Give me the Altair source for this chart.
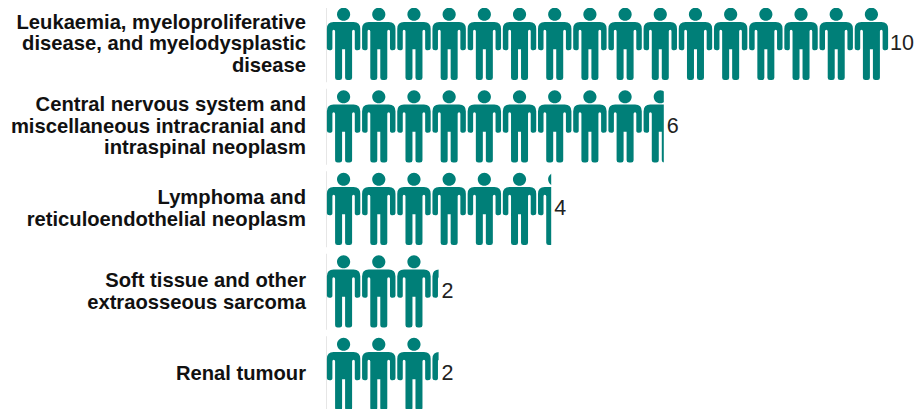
import math
import re
import altair as alt
import pandas as pd

categories = [
    "Leukaemia, myeloproliferative\ndisease, and myelodysplastic\ndisease",
    "Central nervous system and\nmiscellaneous intracranial and\nintraspinal neoplasm",
    "Lymphoma and\nreticuloendothelial neoplasm",
    "Soft tissue and other\nextraosseous sarcoma",
    "Renal tumour",
]
values = [10, 6, 4, 2, 2]
per_icon = 0.625
teal = "#007f78"
font = "Liberation Sans"

person_px = (
    "M0 -36.6 C3.6 -36.6 6.6 -33.6 6.6 -30 C6.6 -26.4 3.6 -23.4 0 -23.4 "
    "C-3.6 -23.4 -6.6 -26.4 -6.6 -30 C-6.6 -33.6 -3.6 -36.6 0 -36.6 Z "
    "M-10 -22.3 L10 -22.3 Q16.7 -22.3 16.7 -15.5 L16.7 4 Q16.7 6 14 6 Q11.2 6 11.2 4 "
    "L11.2 -13 Q11.2 -14.5 10 -14.5 Q8.5 -14.5 8.5 -13 L8.5 33.5 Q8.5 35.8 6 35.8 "
    "L4 35.8 Q1.5 35.8 1.5 33.5 L1.5 5 L-1.5 5 L-1.5 33.5 Q-1.5 35.8 -4 35.8 L-6 35.8 "
    "Q-8.5 35.8 -8.5 33.5 L-8.5 -13 Q-8.5 -14.5 -10 -14.5 Q-11.2 -14.5 -11.2 -13 "
    "L-11.2 4 Q-11.2 6 -14 6 Q-16.7 6 -16.7 4 L-16.7 -15.5 Q-16.7 -22.3 -10 -22.3 Z"
)
person = re.sub(r"-?\d+(\.\d+)?", lambda m: f"{float(m.group()) / 36:.4f}", person_px)

rows = pd.DataFrame({"cat": categories, "value": values})
rows["end"] = [math.ceil(v / per_icon) * per_icon for v in values]
rows["zero"] = 0.0
rows["edge"] = 0.018
rows["lines"] = [c.count("\n") + 1 for c in categories]

icons = pd.DataFrame(
    [
        {"cat": c, "pos": (i + 0.5) * per_icon}
        for c, v in zip(categories, values)
        for i in range(math.ceil(v / per_icon))
    ]
)

x_scale = alt.Scale(domain=[0, 10], range=[0, 563])
y_enc = alt.Y(
    "cat:N",
    sort=categories,
    title=None,
    scale=alt.Scale(domain=categories, range=[-5, 407.5], paddingInner=0, paddingOuter=0),
    axis=None,
)

edge = (
    alt.Chart(rows)
    .mark_bar(height=76, color="#e6e6e6")
    .encode(x=alt.X("zero:Q", scale=x_scale, axis=None), x2="edge:Q", y=y_enc)
)
people = (
    alt.Chart(icons)
    .mark_point(shape=person, filled=True, color=teal, opacity=1, size=5184, strokeWidth=0)
    .encode(x=alt.X("pos:Q", scale=x_scale, axis=None), y=y_enc)
)
mask = (
    alt.Chart(rows)
    .mark_bar(color="white", height=82)
    .encode(x=alt.X("value:Q", scale=x_scale, axis=None), x2="end:Q", y=y_enc)
)


def value_labels(frame, dx):
    return (
        alt.Chart(frame)
        .mark_text(align="left", baseline="middle", dx=dx, font=font, fontSize=21.5, color="#222222")
        .encode(x=alt.X("value:Q", scale=x_scale, axis=None), y=y_enc, text="value:Q")
    )


labels = value_labels(rows[rows["value"] < 10], 3)
labels_wide = value_labels(rows[rows["value"] == 10], 1)
names = [
    alt.Chart(rows[rows["lines"] == n])
    .mark_text(
        align="right",
        baseline="middle",
        lineBreak="\n",
        lineHeight=21.7,
        dy=-(n - 1) * 10.85,
        font=font,
        fontSize=20.2,
        fontWeight="bold",
        color="#111111",
    )
    .encode(x=alt.value(-20), y=y_enc, text="cat:N")
    for n in (1, 2, 3)
]

chart = (
    alt.layer(edge, people, mask, labels, labels_wide, *names)
    .properties(
        width=588,
        height=401,
        padding={"left": 318, "top": 0, "right": 0, "bottom": 0},
        autosize=alt.AutoSizeParams(type="none"),
    )
    .configure_view(stroke=None)
)
chart.save("out.html", embed_options={"renderer": "svg", "actions": False})
